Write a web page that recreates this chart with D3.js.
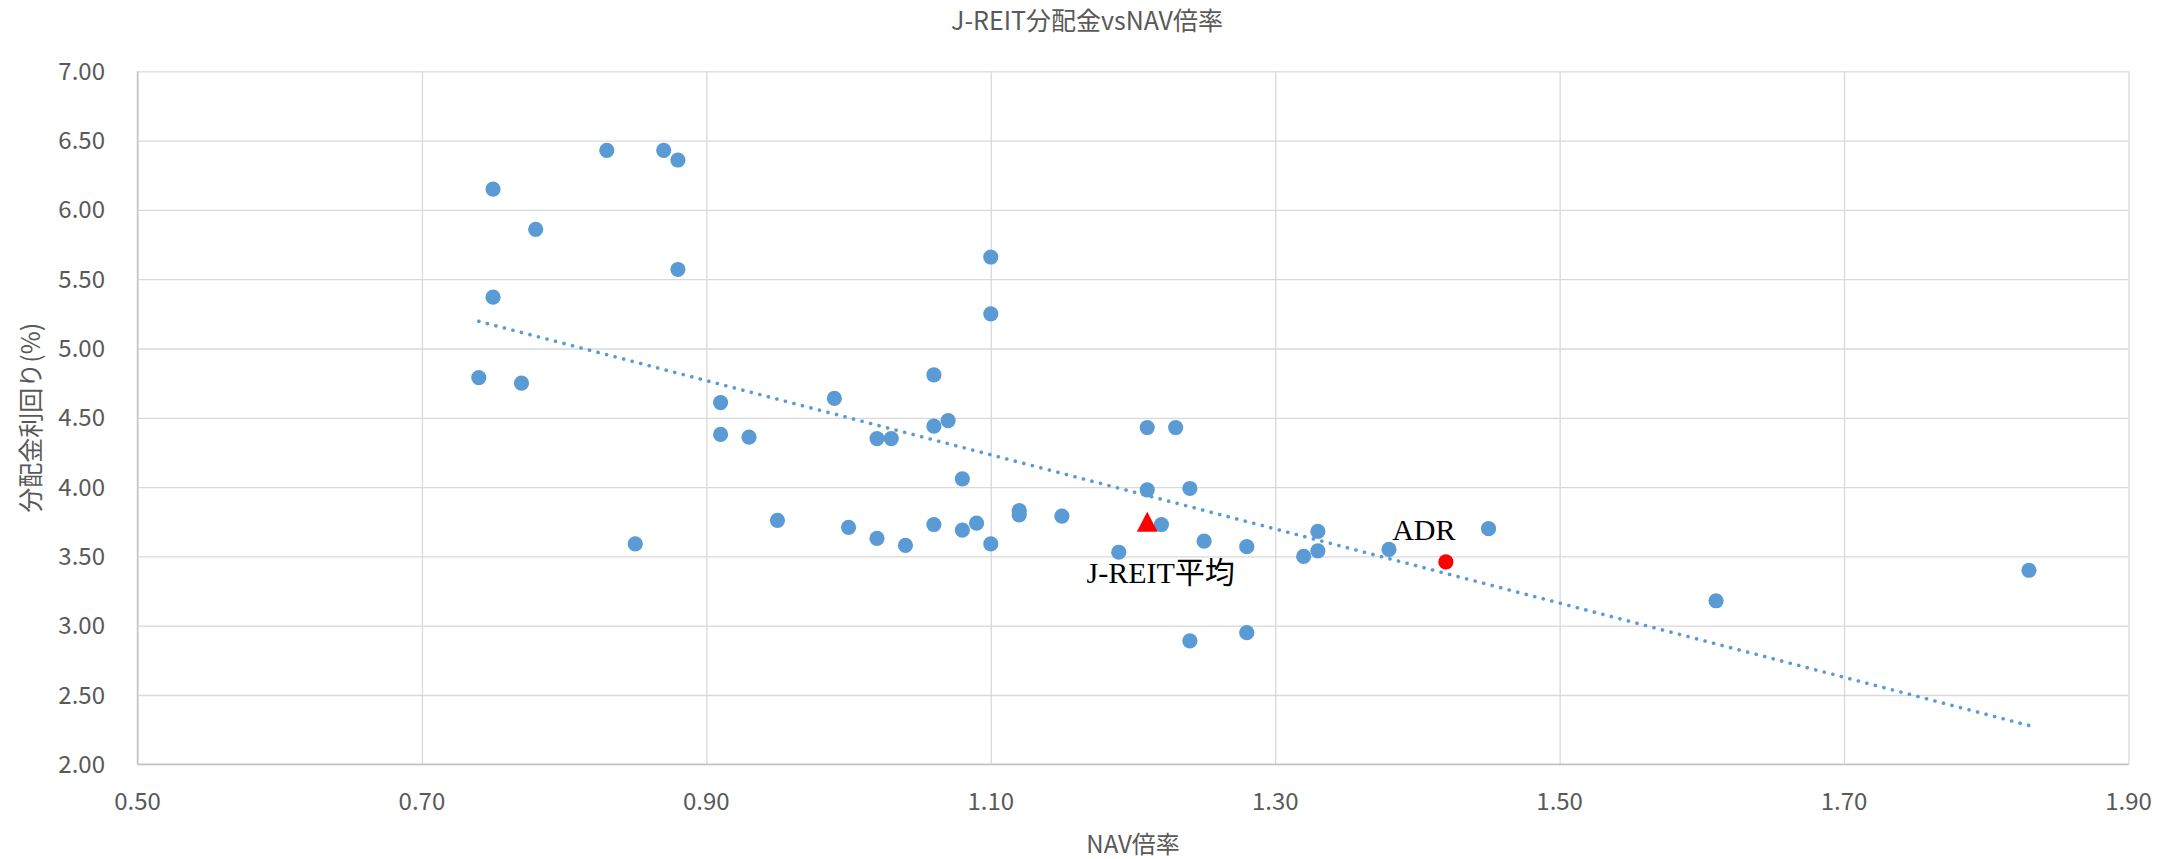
<!DOCTYPE html>
<html><head><meta charset="utf-8">
<script src="https://cdn.jsdelivr.net/npm/d3@7/dist/d3.min.js"></script>
<style>body{margin:0;background:#fff}</style>
</head><body>
<svg id="chart" width="2175" height="859"></svg>
<script>
// ---- data ----
const navRatio = [0.74,0.75,0.75,0.77,0.78,0.83,0.85,0.87,0.88,0.88,
  0.91,0.91,0.93,0.95,0.99,1.00,1.02,1.02,1.03,1.04,
  1.06,1.06,1.06,1.07,1.08,1.08,1.09,1.10,1.10,1.10,
  1.12,1.12,1.15,1.19,1.21,1.21,1.22,1.23,1.24,1.24,
  1.25,1.28,1.28,1.32,1.33,1.33,1.38,1.45,1.61,1.83];
const yieldPct = [4.79,6.15,5.37,4.75,5.86,6.43,3.59,6.43,6.36,5.57,
  4.61,4.38,4.36,3.76,4.64,3.71,4.35,3.63,4.35,3.58,
  4.81,4.44,3.73,4.48,4.06,3.69,3.74,5.66,5.25,3.59,
  3.83,3.80,3.79,3.53,4.43,3.98,3.73,4.43,3.99,2.89,
  3.61,3.57,2.95,3.50,3.68,3.54,3.55,3.70,3.18,3.40];
const avgLabel = "J-REIT平均";
const avgX = 1.21, avgY = 3.75;
const adrLabel = "ADR";
const adrX = 1.42, adrY = 3.46;
const trendX = [0.74, 1.83];
const trendY = [5.196, 2.28];
const xTicks = [0.50,0.70,0.90,1.10,1.30,1.50,1.70,1.90];
const yTicks = [2.00,2.50,3.00,3.50,4.00,4.50,5.00,5.50,6.00,6.50,7.00];
const titleText = "J-REIT分配金vsNAV倍率";
const xTitle = "NAV倍率";
const yTitle = "分配金利回り(%)";

// ---- layout ----
const W = 2175, H = 859;
const L = 137.5, R = 2128.5, T = 71.3, B = 764.3;
const sans = "'Noto Sans CJK JP','Noto Sans',sans-serif";
const serif = "'Liberation Serif','Noto Sans CJK JP',serif";
const blue = "#5B9BD5";

const svg = d3.select("#chart");
svg.append("rect").attr("width", W).attr("height", H).attr("fill", "#fff");

const x = d3.scaleLinear().domain([0.5, 1.9]).range([L, R]);
const y = d3.scaleLinear().domain([2, 7]).range([B, T]);

// gridlines
const gx = svg.append("g").attr("transform", `translate(0,${B})`)
  .call(d3.axisBottom(x).tickValues(xTicks).tickSize(-(B - T)).tickFormat(""));
gx.select(".domain").remove();
gx.selectAll("line").attr("stroke", "#D9D9D9").attr("stroke-width", 1.3);

const gy = svg.append("g").attr("transform", `translate(${L},0)`)
  .call(d3.axisLeft(y).tickValues(yTicks).tickSize(-(R - L)).tickFormat(""));
gy.select(".domain").remove();
gy.selectAll("line").attr("stroke", "#D9D9D9").attr("stroke-width", 1.3);

// axis lines
svg.append("line").attr("x1", L).attr("x2", R).attr("y1", B).attr("y2", B)
  .attr("stroke", "#C4C4C4").attr("stroke-width", 1.4);
svg.append("line").attr("x1", L).attr("x2", L).attr("y1", T).attr("y2", B)
  .attr("stroke", "#C4C4C4").attr("stroke-width", 1.4);

// tick labels
const fmt = d3.format(".2f");
svg.append("g").selectAll("text").data(xTicks).join("text")
  .attr("x", d => x(d)).attr("y", 810)
  .attr("text-anchor", "middle").attr("font-family", sans).attr("font-size", 24)
  .attr("fill", "#595959").text(fmt);
svg.append("g").selectAll("text").data(yTicks).join("text")
  .attr("x", 105).attr("y", d => y(d) + 8.5)
  .attr("text-anchor", "end").attr("font-family", sans).attr("font-size", 24)
  .attr("fill", "#595959").text(fmt);

// titles
svg.append("text").attr("x", 1087).attr("y", 29.5).attr("text-anchor", "middle")
  .attr("font-family", sans).attr("font-size", 25).attr("fill", "#595959").text(titleText);
svg.append("text").attr("x", (L + R) / 2).attr("y", 853).attr("text-anchor", "middle")
  .attr("font-family", sans).attr("font-size", 24).attr("fill", "#595959").text(xTitle);
svg.append("text").attr("transform", `translate(40,${(T + B) / 2}) rotate(-90)`)
  .attr("text-anchor", "middle")
  .attr("font-family", sans).attr("font-size", 25).attr("fill", "#595959").text(yTitle);

// scatter points
const pts = navRatio.map((v, i) => ({ x: v, y: yieldPct[i] }));
svg.append("g").selectAll("circle").data(pts).join("circle")
  .attr("cx", d => x(d.x)).attr("cy", d => y(d.y)).attr("r", 7.6).attr("fill", blue);

// trendline (dotted)
const trend = trendX.map((v, i) => [v, trendY[i]]);
svg.append("path").datum(trend)
  .attr("d", d3.line().x(d => x(d[0])).y(d => y(d[1])))
  .attr("fill", "none").attr("stroke", blue).attr("stroke-width", 3.6)
  .attr("stroke-linecap", "round").attr("stroke-dasharray", "0.1 8.7");

// J-REIT average (triangle)
svg.append("path")
  .attr("transform", `translate(${x(avgX)},${y(avgY)})`)
  .attr("d", "M0,-9.9L10.4,9.9L-10.4,9.9Z").attr("fill", "#FF0000");
svg.append("text").attr("x", x(avgX) + 13.5).attr("y", y(avgY) + 61)
  .attr("text-anchor", "middle").attr("font-family", serif).attr("font-size", 30)
  .attr("fill", "#000").text(avgLabel);

// ADR
svg.append("circle").attr("cx", x(adrX)).attr("cy", y(adrY)).attr("r", 7.6).attr("fill", "#FF0000");
svg.append("text").attr("x", x(adrX) - 22).attr("y", y(adrY) - 22)
  .attr("text-anchor", "middle").attr("font-family", serif).attr("font-size", 30)
  .attr("fill", "#000").text(adrLabel);
</script>
</body></html>
